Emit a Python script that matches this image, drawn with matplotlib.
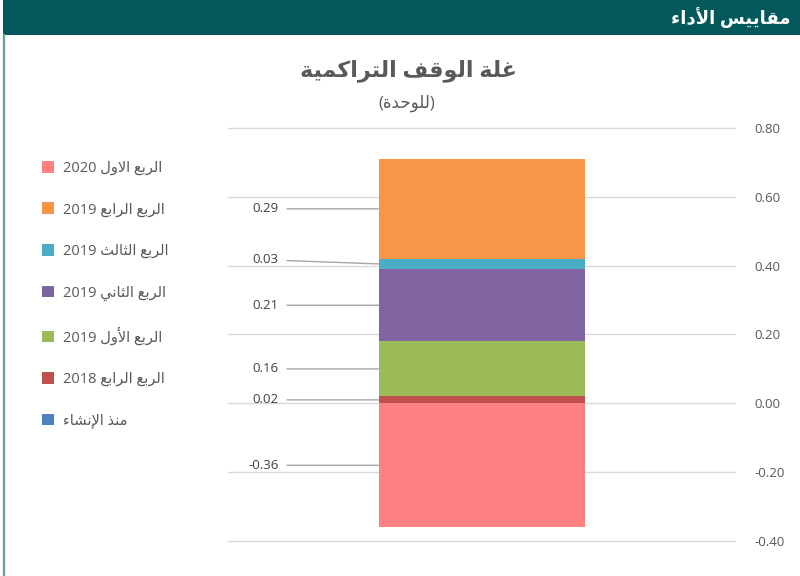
"""
Cumulative endowment yield - single stacked bar with leader-line labels
"""

import re
import matplotlib
matplotlib.use('Agg')
import matplotlib.pyplot as plt
from matplotlib.patches import Rectangle


################################################################################
#
# data
#
series_names = ['منذ الإنشاء', 'الربع الرابع 2018', 'الربع الأول 2019',
                'الربع الثاني 2019', 'الربع الثالث 2019', 'الربع الرابع 2019',
                'الربع الاول 2020']
series_values = [0.0, 0.02, 0.16, 0.21, 0.03, 0.29, -0.36]
series_colors = ['#4F81BD', '#C0504D', '#9BBB59', '#8064A2', '#4BACC6',
                 '#F79646', '#FF8080']

header_text = 'مقاييس الأداء'
title_text = 'غلة الوقف التراكمية'
subtitle_text = '(للوحدة)'
y_ticks = [-0.40, -0.20, 0.00, 0.20, 0.40, 0.60, 0.80]


################################################################################
#
# tiny arabic shaper: matplotlib has no complex text layout, so map letters
# to presentation forms and reverse into visual order
#
FORMS = {  # isolated, final, initial, medial
    'ء': (0xFE80, None, None, None),
    'آ': (0xFE81, 0xFE82, None, None),
    'أ': (0xFE83, 0xFE84, None, None),
    'ؤ': (0xFE85, 0xFE86, None, None),
    'إ': (0xFE87, 0xFE88, None, None),
    'ئ': (0xFE89, 0xFE8A, 0xFE8B, 0xFE8C),
    'ا': (0xFE8D, 0xFE8E, None, None),
    'ب': (0xFE8F, 0xFE90, 0xFE91, 0xFE92),
    'ة': (0xFE93, 0xFE94, None, None),
    'ت': (0xFE95, 0xFE96, 0xFE97, 0xFE98),
    'ث': (0xFE99, 0xFE9A, 0xFE9B, 0xFE9C),
    'ج': (0xFE9D, 0xFE9E, 0xFE9F, 0xFEA0),
    'ح': (0xFEA1, 0xFEA2, 0xFEA3, 0xFEA4),
    'خ': (0xFEA5, 0xFEA6, 0xFEA7, 0xFEA8),
    'د': (0xFEA9, 0xFEAA, None, None),
    'ذ': (0xFEAB, 0xFEAC, None, None),
    'ر': (0xFEAD, 0xFEAE, None, None),
    'ز': (0xFEAF, 0xFEB0, None, None),
    'س': (0xFEB1, 0xFEB2, 0xFEB3, 0xFEB4),
    'ش': (0xFEB5, 0xFEB6, 0xFEB7, 0xFEB8),
    'ص': (0xFEB9, 0xFEBA, 0xFEBB, 0xFEBC),
    'ض': (0xFEBD, 0xFEBE, 0xFEBF, 0xFEC0),
    'ط': (0xFEC1, 0xFEC2, 0xFEC3, 0xFEC4),
    'ظ': (0xFEC5, 0xFEC6, 0xFEC7, 0xFEC8),
    'ع': (0xFEC9, 0xFECA, 0xFECB, 0xFECC),
    'غ': (0xFECD, 0xFECE, 0xFECF, 0xFED0),
    'ف': (0xFED1, 0xFED2, 0xFED3, 0xFED4),
    'ق': (0xFED5, 0xFED6, 0xFED7, 0xFED8),
    'ك': (0xFED9, 0xFEDA, 0xFEDB, 0xFEDC),
    'ل': (0xFEDD, 0xFEDE, 0xFEDF, 0xFEE0),
    'م': (0xFEE1, 0xFEE2, 0xFEE3, 0xFEE4),
    'ن': (0xFEE5, 0xFEE6, 0xFEE7, 0xFEE8),
    'ه': (0xFEE9, 0xFEEA, 0xFEEB, 0xFEEC),
    'و': (0xFEED, 0xFEEE, None, None),
    'ى': (0xFEEF, 0xFEF0, None, None),
    'ي': (0xFEF1, 0xFEF2, 0xFEF3, 0xFEF4),
}
LAM_ALEF = {'آ': (0xFEF5, 0xFEF6), 'أ': (0xFEF7, 0xFEF8),
            'إ': (0xFEF9, 0xFEFA), 'ا': (0xFEFB, 0xFEFC)}
MIRROR = {'(': ')', ')': '(', '[': ']', ']': '['}


def joins_next(c):
    return c in FORMS and FORMS[c][2] is not None


def shape(text):
    # merge lam + alef into ligature tokens first
    chars = []
    i = 0
    while i < len(text):
        if text[i] == 'ل' and i + 1 < len(text) and text[i + 1] in LAM_ALEF:
            chars.append(('LA', text[i + 1]))
            i += 2
        else:
            chars.append(('C', text[i]))
            i += 1
    out = []
    for k, (kind, c) in enumerate(chars):
        prev = chars[k - 1] if k > 0 else None
        nxt = chars[k + 1] if k + 1 < len(chars) else None
        from_prev = prev is not None and prev[0] == 'C' and joins_next(prev[1])
        if kind == 'LA':
            iso, fin = LAM_ALEF[c]
            out.append(chr(fin if from_prev else iso))
            continue
        if c not in FORMS:
            out.append(c)
            continue
        iso, fin, ini, med = FORMS[c]
        to_next = (ini is not None and nxt is not None
                   and (nxt[0] == 'LA' or nxt[1] in FORMS))
        if from_prev and to_next:
            out.append(chr(med))
        elif from_prev:
            out.append(chr(fin))
        elif to_next:
            out.append(chr(ini))
        else:
            out.append(chr(iso))
    return ''.join(out)


def ar(text):
    shaped = shape(text)
    runs = re.findall(r'[0-9.]+|[^0-9.]+', shaped)
    vis = []
    for r in reversed(runs):
        if r[0].isdigit():
            vis.append(r)
        else:
            vis.append(''.join(MIRROR.get(c, c) for c in reversed(r)))
    return ''.join(vis)


################################################################################
#
# figure
#
plt.rcParams['font.family'] = ['Open Sans', 'DejaVu Sans']
text_gray = '#595959'

fig = plt.figure(figsize=(8, 5.76), dpi=100)

# header band and frame
fig.patches.append(Rectangle((0.004, 0.939), 0.996, 0.061, transform=fig.transFigure,
                             facecolor='#02585A', edgecolor='none', zorder=0))
fig.add_artist(plt.Line2D([0.0045, 0.0045], [0, 0.94], transform=fig.transFigure,
                          color='#6A9E9F', lw=1.6))
fig.text(0.988, 0.969, ar(header_text), color='white', fontsize=13,
         fontweight='bold', ha='right', va='center')

# titles
fig.text(0.51, 0.877, ar(title_text), color=text_gray, fontsize=16,
         fontweight='bold', ha='center', va='center')
fig.text(0.508, 0.82, ar(subtitle_text), color=text_gray, fontsize=12,
         ha='center', va='center')

ax = fig.add_axes([0.285, 0.0608, 0.634, 0.717])

# stacked bar: positives and negatives stack separately
pos_base = 0.0
neg_base = 0.0
handles = []
for name, val, col in zip(series_names, series_values, series_colors):
    base = pos_base if val >= 0 else neg_base
    b = ax.bar(0, val, bottom=base, width=0.406, color=col, label=ar(name), zorder=3)
    handles.append(b)
    if val != 0:
        mid = base + val / 2
        label_y = mid + 0.012 if name == 'الربع الثالث 2019' else mid
        ax.annotate(f'{val:.2f}', xy=(-0.203, mid), xytext=(-0.4, label_y),
                    ha='right', va='center', fontsize=9.5, color='#404040',
                    arrowprops=dict(arrowstyle='-', color='#A6A6A6', lw=1,
                                    shrinkA=4, shrinkB=0))
    if val >= 0:
        pos_base += val
    else:
        neg_base += val

ax.set_xlim(-0.5, 0.5)
ax.set_ylim(-0.4, 0.8)
ax.set_yticks(y_ticks)
ax.set_yticklabels([f'{t:.2f}' for t in y_ticks])
ax.yaxis.tick_right()
ax.tick_params(axis='y', length=0, pad=14, labelsize=9.5, labelcolor=text_gray)
ax.set_xticks([])
for s in ax.spines.values():
    s.set_visible(False)
ax.yaxis.grid(True, color='#D9D9D9', lw=1, zorder=0)
for gl in ax.get_ygridlines():
    gl.set_clip_on(False)
ax.set_axisbelow(True)

leg = fig.legend(handles=handles[::-1], loc='upper left',
                 bbox_to_anchor=(0.045, 0.731), frameon=False, fontsize=10.5,
                 labelspacing=1.82, handlelength=0.85, handleheight=0.85,
                 handletextpad=0.6, borderaxespad=0)
for t in leg.get_texts():
    t.set_color(text_gray)

fig.savefig('out.png', dpi=100)
